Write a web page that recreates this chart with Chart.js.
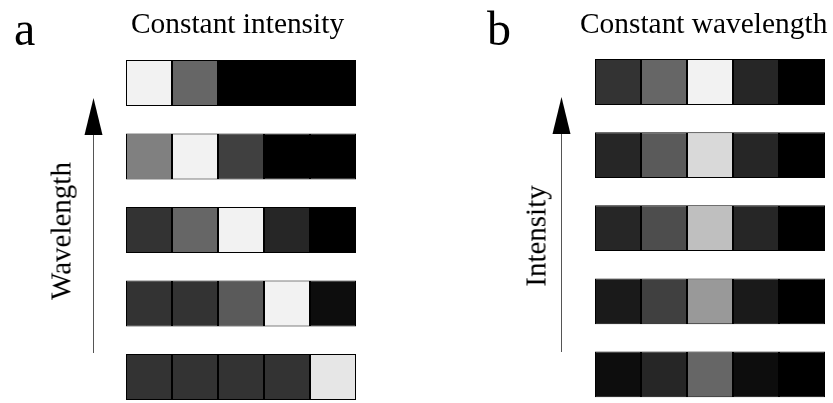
<!DOCTYPE html>
<html>
<head>
<meta charset="utf-8">
<script src="https://cdn.jsdelivr.net/npm/chart.js@4"></script>
<style>
  html, body { margin: 0; padding: 0; background: #fff; overflow: hidden; }
  body { position: relative; width: 833px; height: 403px; }
  canvas { position: absolute; top: 0; }
  .lbl { position: absolute; font-family: "Liberation Serif", "Times New Roman", serif; color: #000; line-height: 1; white-space: nowrap; }
  .rot { width: 200px; text-align: center; transform: translate(-50%, -50%) rotate(-90deg); }
</style>
</head>
<body>
<canvas id="chartA" width="416" height="414" style="left:0px"></canvas>
<canvas id="chartB" width="417" height="412" style="left:416px"></canvas>

<div class="lbl" style="left:14px; top:5px; font-size:48px;">a</div>
<div class="lbl" style="left:487px; top:5px; font-size:48px;">b</div>
<div class="lbl" style="left:131px; top:9px; font-size:29.4px;">Constant intensity</div>
<div class="lbl" style="left:580px; top:9px; font-size:29.4px;">Constant wavelength</div>
<div class="lbl rot" style="left:61px; top:231px; font-size:29px;">Wavelength</div>
<div class="lbl rot" style="left:536px; top:236px; font-size:29px;">Intensity</div>

<script>
// Rows from top to bottom, five cells each (grey level 0-255)
const rowLabels = ['1', '2', '3', '4', '5'];
const columnEdges = [0, 1, 2, 3, 4, 5];

// a: constant intensity, wavelength increases upwards
const wavelengthRows = [
  [242, 102, 0, 0, 0],
  [128, 242, 64, 0, 0],
  [51, 102, 242, 38, 0],
  [51, 51, 90, 242, 13],
  [51, 51, 51, 51, 230]
];

// b: constant wavelength, intensity increases upwards
const intensityRows = [
  [51, 102, 242, 38, 0],
  [38, 90, 217, 38, 0],
  [38, 77, 191, 38, 0],
  [26, 64, 153, 26, 0],
  [13, 38, 102, 13, 0]
];

function grey(v) {
  return 'rgb(' + v + ',' + v + ',' + v + ')';
}

// Arrow on the left of each panel
const arrowPlugin = {
  id: 'arrow',
  afterDraw(chart, args, opts) {
    const ctx = chart.ctx;
    ctx.save();
    ctx.strokeStyle = '#555';
    ctx.lineWidth = 1;
    ctx.beginPath();
    ctx.moveTo(opts.x + 0.5, opts.bottom);
    ctx.lineTo(opts.x + 0.5, opts.base);
    ctx.stroke();
    ctx.fillStyle = '#000';
    ctx.beginPath();
    ctx.moveTo(opts.x + 0.5, opts.tip);
    ctx.lineTo(opts.x + 0.5 - 9, opts.base);
    ctx.lineTo(opts.x + 0.5 + 9, opts.base);
    ctx.closePath();
    ctx.fill();
    ctx.restore();
  }
};

function buildChart(id, rows, padding, arrow) {
  const datasets = columnEdges.slice(0, -1).map((edge, j) => ({
    label: 'c' + (j + 1),
    data: rows.map(() => [columnEdges[j], columnEdges[j + 1]]),
    backgroundColor: rows.map(r => grey(r[j])),
    borderColor: '#000',
    borderWidth: 1,
    borderSkipped: false,
    grouped: false,
    barPercentage: 0.627,
    categoryPercentage: 1
  }));

  return new Chart(document.getElementById(id), {
    type: 'bar',
    data: { labels: rowLabels, datasets: datasets },
    options: {
      indexAxis: 'y',
      responsive: false,
      animation: false,
      layout: { padding: padding },
      plugins: {
        legend: { display: false },
        tooltip: { enabled: false },
        arrow: arrow
      },
      scales: {
        x: { type: 'linear', min: 0, max: 5, display: false },
        y: { type: 'category', display: false, offset: true }
      }
    },
    plugins: [arrowPlugin]
  });
}

buildChart('chartA', wavelengthRows,
  { left: 126, right: 60, top: 46.25, bottom: 0.25 },
  { x: 93, tip: 98, base: 135, bottom: 353 });

buildChart('chartB', intensityRows,
  { left: 179, right: 8, top: 45.4, bottom: 1 },
  { x: 145, tip: 97, base: 134, bottom: 352 });
</script>
</body>
</html>
